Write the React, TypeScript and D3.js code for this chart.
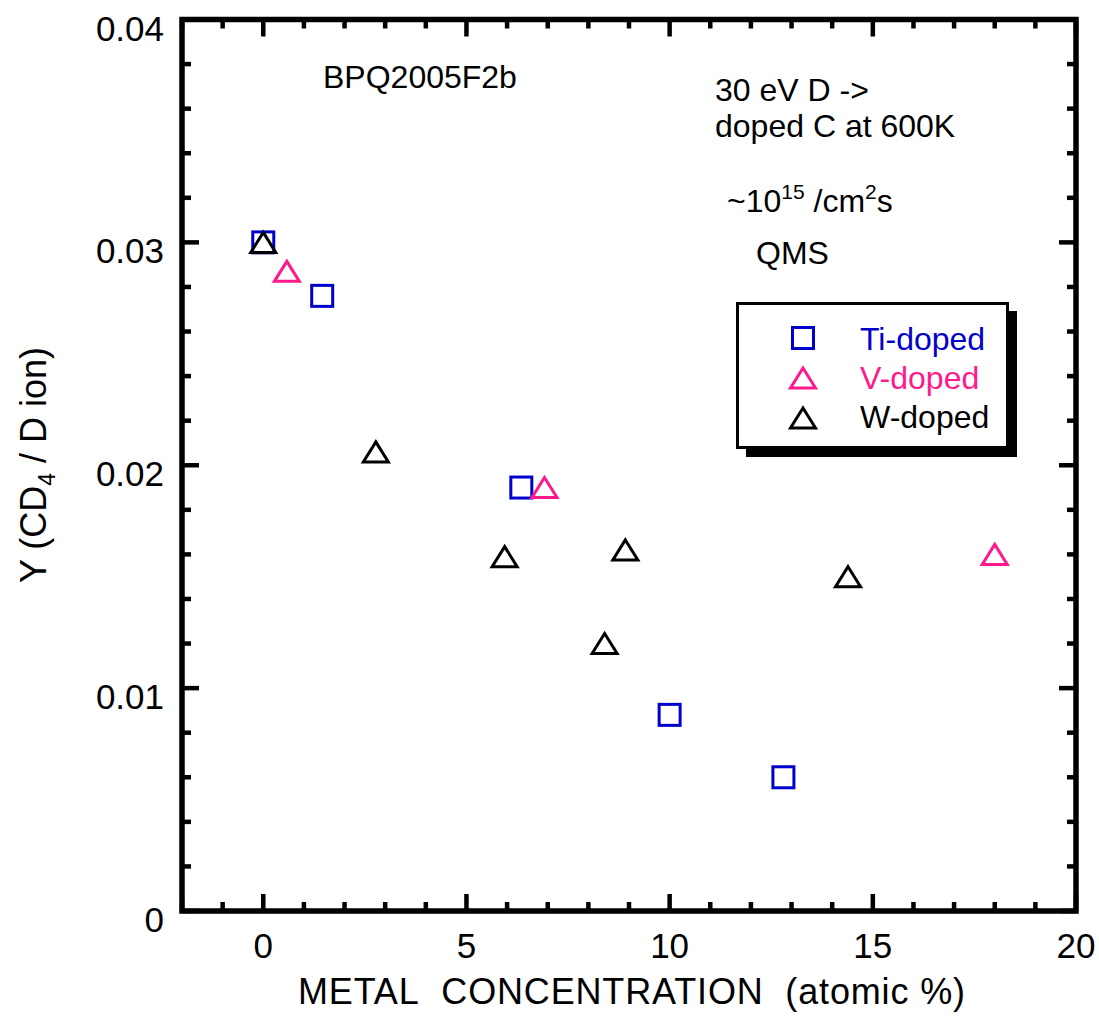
import React from 'react';
import * as d3 from 'd3';

// Ti-doped (blue squares)
const tiX = [0, 1.45, 6.35, 10.0, 12.8];
const tiY = [0.03, 0.0276, 0.019, 0.0088, 0.006];
// V-doped (pink triangles)
const vX = [0.58, 6.92, 18.0];
const vY = [0.0287, 0.019, 0.016];
// W-doped (black triangles)
const wX = [0, 2.77, 5.94, 8.91, 8.4, 14.39];
const wY = [0.03, 0.0206, 0.0159, 0.0162, 0.012, 0.015];

const xTicks = [0, 5, 10, 15, 20];
const xTickLabels = ['0', '5', '10', '15', '20'];
const yTicks = [0, 0.01, 0.02, 0.03, 0.04];
const yTickLabels = ['0', '0.01', '0.02', '0.03', '0.04'];

const seriesNames = ['Ti-doped', 'V-doped', 'W-doped'];

const W = 1099;
const H = 1018;
const left = 182, right = 1076, top = 19.5, bottom = 911;
const FONT = 'Liberation Sans, Arial, Helvetica, sans-serif';
const BLUE = '#0000cc';
const PINK = '#ff1a8c';
const BLACK = '#000';

const x = d3.scaleLinear().domain([-2, 20]).range([left, right]);
const y = d3.scaleLinear().domain([0, 0.04]).range([bottom, top]);

const sq = 21;
const triPath = (() => {
  const w = 25, h = 20;
  const p = d3.path();
  p.moveTo(0, -h / 2);
  p.lineTo(w / 2, h / 2);
  p.lineTo(-w / 2, h / 2);
  p.closePath();
  return p.toString();
})();

const Square = ({ cx, cy, color }: { cx: number; cy: number; color: string }) => (
  <rect x={cx - sq / 2} y={cy - sq / 2} width={sq} height={sq} fill="none" stroke={color} strokeWidth={3} />
);
const Tri = ({ cx, cy, color }: { cx: number; cy: number; color: string }) => (
  <path d={triPath} transform={`translate(${cx},${cy})`} fill="none" stroke={color} strokeWidth={3} strokeLinejoin="miter" />
);

export default function App() {
  const xMinor = d3.range(-2, 20.001, 1);
  const yMinor = d3.range(0, 0.04001, 0.002);
  const isMajorX = (v: number) => Math.abs(v % 5) < 1e-9;
  const isMajorY = (v: number) => Math.abs(Math.round(v / 0.01) * 0.01 - v) < 1e-9;
  const tickW = 4.5;

  return (
    <svg width={W} height={H} style={{ position: 'absolute', left: 0, top: 0, background: '#fff' }} fontFamily={FONT}>
      <rect width={W} height={H} fill="#fff" />
      {/* ticks */}
      <g stroke={BLACK} strokeWidth={tickW}>
        {xMinor.map((v) => {
          const len = isMajorX(v) ? 17 : 9;
          return (
            <g key={'xt' + v}>
              <line x1={x(v)} x2={x(v)} y1={bottom} y2={bottom - len} />
              <line x1={x(v)} x2={x(v)} y1={top} y2={top + len} />
            </g>
          );
        })}
        {yMinor.map((v) => {
          const len = isMajorY(v) ? 17 : 9;
          return (
            <g key={'yt' + v}>
              <line x1={left} x2={left + len} y1={y(v)} y2={y(v)} />
              <line x1={right} x2={right - len} y1={y(v)} y2={y(v)} />
            </g>
          );
        })}
      </g>
      <rect x={left} y={top} width={right - left} height={bottom - top} fill="none" stroke={BLACK} strokeWidth={5.5} />

      {/* tick labels */}
      <g fontSize={35} fill={BLACK}>
        {xTicks.map((v, i) => (
          <text key={'xl' + v} x={x(v)} y={958} textAnchor="middle">{xTickLabels[i]}</text>
        ))}
        {yTicks.map((v, i) => (
          <text key={'yl' + v} x={164} y={y(v) + 21} textAnchor="end">{yTickLabels[i]}</text>
        ))}
      </g>

      {/* axis titles */}
      <text x={298} y={1004} fontSize={36} fill={BLACK} textLength={667} lengthAdjust="spacing">
        METAL&#160; CONCENTRATION&#160; (atomic %)
      </text>
      <text transform="translate(46,465) rotate(-90)" textAnchor="middle" fontSize={36} fill={BLACK}>
        Y (CD<tspan fontSize={23} dy={9}>4</tspan><tspan dy={-9}> / D ion)</tspan>
      </text>

      {/* annotations */}
      <g fontSize={32} fill={BLACK}>
        <text x={323} y={88}>BPQ2005F2b</text>
        <text x={715} y={101}>30 eV D -&gt;</text>
        <text x={715} y={137}>doped C at 600K</text>
        <text x={727} y={212}>
          ~10<tspan fontSize={21} dy={-13}>15</tspan>
          <tspan dy={13}> /cm</tspan>
          <tspan fontSize={21} dy={-13}>2</tspan>
          <tspan dy={13}>s</tspan>
        </text>
        <text x={756} y={264}>QMS</text>
      </g>

      {/* data */}
      {tiX.map((v, i) => <Square key={'ti' + i} cx={x(v)} cy={y(tiY[i])} color={BLUE} />)}
      {vX.map((v, i) => <Tri key={'v' + i} cx={x(v)} cy={y(vY[i])} color={PINK} />)}
      {wX.map((v, i) => <Tri key={'w' + i} cx={x(v)} cy={y(wY[i])} color={BLACK} />)}

      {/* legend */}
      <rect x={746} y={311} width={271} height={146} fill={BLACK} />
      <rect x={737.5} y={303.5} width={270} height={144} fill="#fff" stroke={BLACK} strokeWidth={3} />
      <Square cx={803} cy={338} color={BLUE} />
      <Tri cx={803} cy={378} color={PINK} />
      <Tri cx={803} cy={418} color={BLACK} />
      <g fontSize={32}>
        <text x={860} y={350} fill={BLUE}>{seriesNames[0]}</text>
        <text x={860} y={389} fill={PINK}>{seriesNames[1]}</text>
        <text x={860} y={428} fill={BLACK}>{seriesNames[2]}</text>
      </g>
    </svg>
  );
}
